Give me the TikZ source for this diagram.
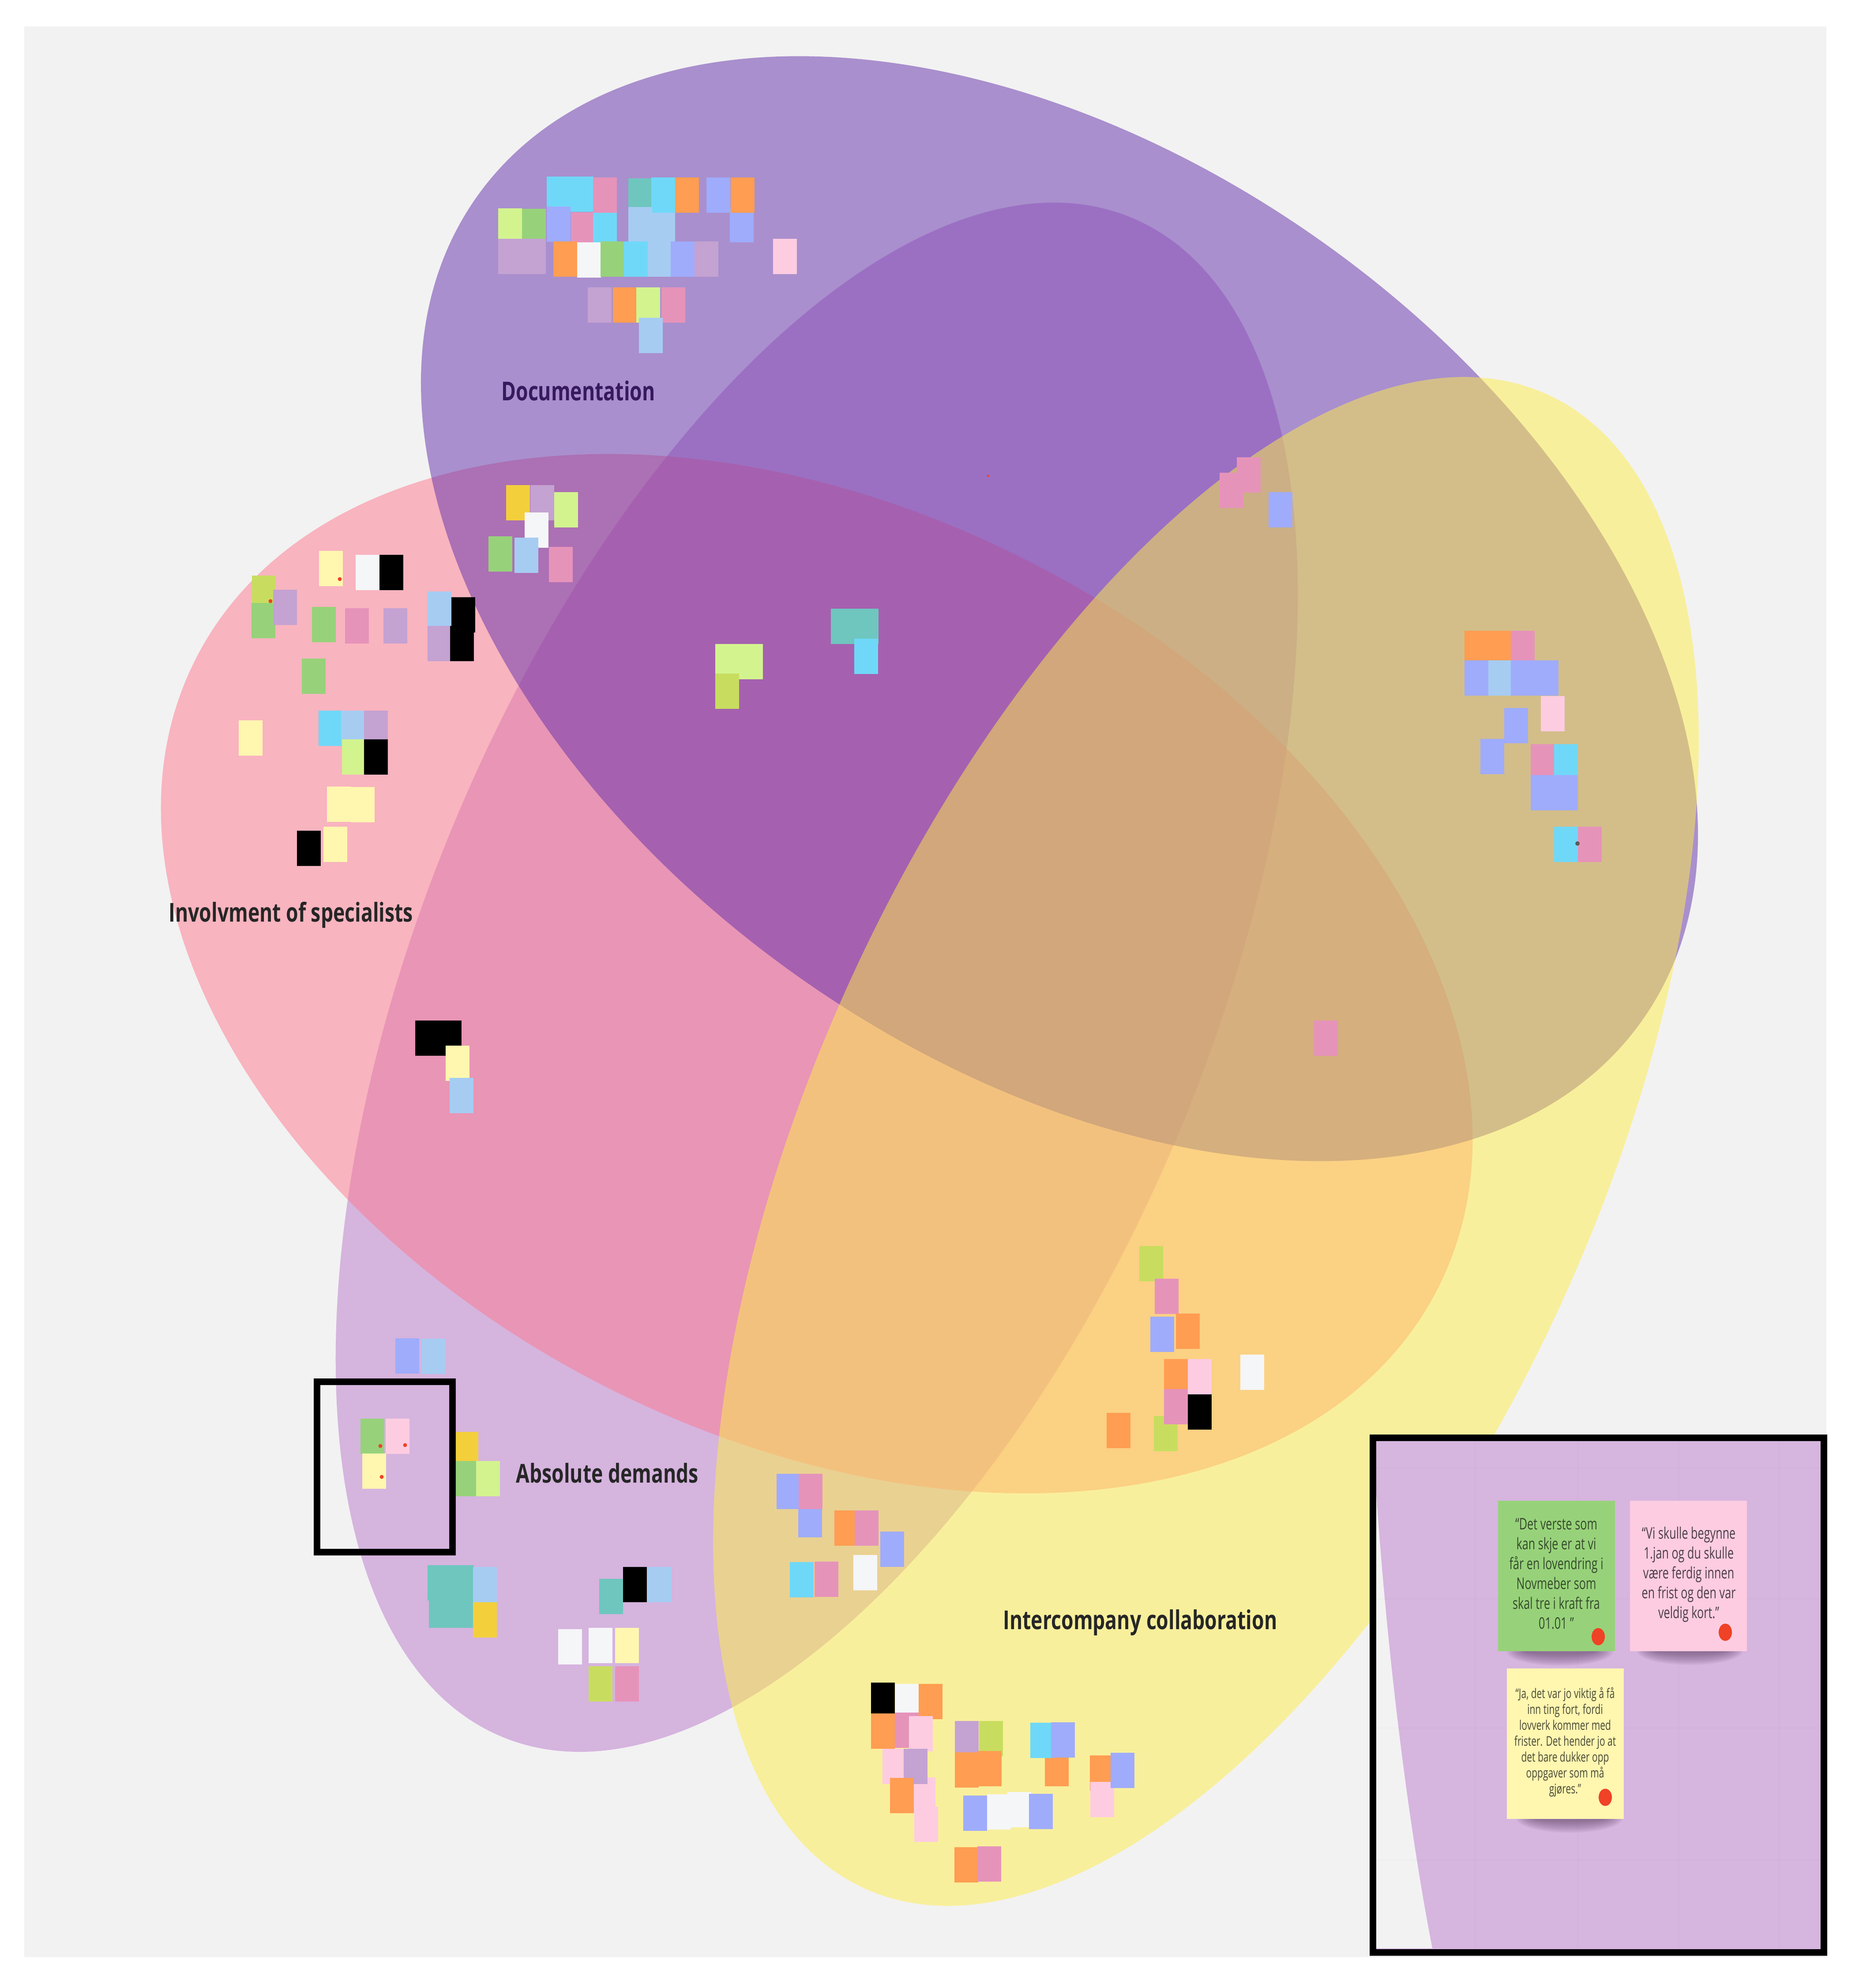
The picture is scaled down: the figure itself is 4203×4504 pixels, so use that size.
\documentclass[tikz,border=0pt]{standalone}
\usepackage{fontspec}
\setmainfont{Open Sans}
\usetikzlibrary{shapes.geometric}
\definecolor{vDocs}{RGB}{98,46,170}
\definecolor{vSpec}{RGB}{254,120,142}
\definecolor{vDemand}{RGB}{186,120,204}
\definecolor{vInter}{RGB}{254,238,72}
\definecolor{backGrey}{HTML}{F2F2F2}
\definecolor{insetFill}{HTML}{D6B5DF}
\definecolor{nCyan}{HTML}{6FD8F8}
\definecolor{nRose}{HTML}{E693BA}
\definecolor{nTeal}{HTML}{6EC6BF}
\definecolor{nOrange}{HTML}{FF9D52}
\definecolor{nPeri}{HTML}{9FACFC}
\definecolor{nBlue}{HTML}{A6CCF2}
\definecolor{nLime}{HTML}{D3F38F}
\definecolor{nGreen}{HTML}{97D27A}
\definecolor{nMauve}{HTML}{C4A2D2}
\definecolor{nWhite}{HTML}{F5F6F8}
\definecolor{nPink}{HTML}{FDCCE1}
\definecolor{nYellow}{HTML}{FFF6B0}
\definecolor{nGold}{HTML}{F4CF3C}
\definecolor{nOlive}{HTML}{C8DD5F}
\definecolor{dotRed}{HTML}{EF4226}
\tikzset{%
   venn/.style={ellipse, inner sep=0mm, outer sep=0mm, fill opacity=.5},
   sticky/.style={rectangle, inner sep=0mm, outer sep=0mm, anchor=north west, minimum width=5.4pt, minimum height=8pt},
   bigsticky/.style={rectangle, inner sep=0mm, outer sep=0mm, anchor=north west, minimum width=26.5pt, minimum height=34.1pt},
   vote/.style={circle, inner sep=0mm, outer sep=0mm, minimum size=.9pt, fill=dotRed},
   bigvote/.style={ellipse, inner sep=0mm, outer sep=0mm, minimum width=3pt, minimum height=3.9pt, fill=dotRed},
   title/.style={inner sep=0mm, font=\fontsize{5.9}{7}\bfseries\selectfont, xscale=.755},
   quote/.style={inner sep=0mm, align=center, xscale=.7},
   frame/.style={rectangle, draw=black, inner sep=0mm, outer sep=0mm},
}
\begin{document}
\begin{tikzpicture}[x=.1pt, y=-.1pt]
      \useasboundingbox (0,0) rectangle (4203,4504);
      \fill[white] (0,0) rectangle (4203,4504);
      \fill[backGrey] (55,60) rectangle (4139,4434);
      \node[venn, fill=vDemand, minimum width=372.6pt, minimum height=178.6pt, rotate=67.5] (demands) at (1851,2214) {};
      \node[venn, fill=vSpec, minimum width=315.6pt, minimum height=210.2pt, rotate=-26.8] (specialists) at (1851,2206) {};
      \node[venn, fill=vDocs, minimum width=323.4pt, minimum height=204.5pt, rotate=-35.2] (docs) at (2401,1379) {};
      \node[venn, fill=vInter, minimum width=372.2pt, minimum height=177pt, rotate=65.4] (inter) at (2733,2586) {};
      \foreach \x/\y/\c [count=\i] in {
         1239/400/nCyan, 1291/400/nCyan, 1344/402/nRose, 1424/404/nTeal, 1476/469/nBlue, 1476/402/nCyan,
         1530/402/nOrange, 1601/402/nPeri, 1654/469/nPeri, 1656/402/nOrange,
         1129/472/nLime, 1183/473/nGreen, 1239/468/nPeri, 1294/481/nRose, 1344/482/nCyan, 1424/469/nBlue,
         1129/541/nMauve, 1183/541/nMauve, 1254/547/nOrange, 1308/549/nWhite, 1361/547/nGreen, 1414/547/nCyan,
         1468/547/nBlue, 1520/547/nPeri, 1574/547/nMauve, 1752/541/nPink,
         1332/651/nMauve, 1389/651/nOrange, 1442/651/nLime, 1499/651/nRose, 1448/720/nBlue,
         1147/1099/nGold, 1202/1099/nMauve, 1256/1115/nLime, 1189/1161/nWhite, 1107/1215/nGreen, 1166/1218/nBlue, 1244/1239/nRose,
         723/1248/nYellow, 806/1257/nWhite, 860/1257/black, 571/1304/nOlive, 570/1366/nGreen, 619/1336/nMauve,
         707/1375/nGreen, 782/1378/nRose, 869/1378/nMauve, 969/1340/nBlue, 1023/1353/black, 969/1418/nMauve, 1020/1418/black,
         684/1492/nGreen, 722/1610/nCyan, 773/1610/nBlue, 825/1610/nMauve, 541/1632/nYellow, 775/1675/nLime, 825/1675/black,
         741/1782/nYellow, 795/1783/nYellow, 673/1882/black, 733/1873/nYellow,
         941/2312/black, 992/2312/black, 1010/2369/nYellow, 1019/2442/nBlue,
         896/3032/nPeri, 956/3033/nBlue, 817/3214/nGreen, 874/3214/nPink, 821/3293/nYellow,
         1030/3244/nGold, 1030/3310/nGreen, 1079/3310/nLime,
         969/3546/nTeal, 1020/3546/nTeal, 972/3608/nTeal, 1020/3608/nTeal, 1072/3550/nBlue, 1072/3630/nGold,
         1358/3577/nTeal, 1412/3550/black, 1468/3550/nBlue, 1265/3691/nWhite, 1334/3688/nWhite, 1394/3688/nYellow,
         1334/3775/nOlive, 1394/3775/nRose,
         1974/3812/black, 2029/3815/nWhite, 2082/3815/nOrange, 1974/3882/nOrange, 2028/3880/nRose, 2060/3888/nPink,
         2066/4027/nPink, 2000/3962/nPink, 2048/3962/nMauve, 2017/4028/nOrange, 2072/4093/nPink,
         2219/3899/nOlive, 2164/3899/nMauve, 2164/3970/nOrange, 2216/3967/nOrange, 2368/3967/nOrange, 2335/3903/nCyan, 2382/3902/nPeri,
         2470/3977/nOrange, 2471/4037/nPink, 2517/3971/nPeri,
         2183/4068/nPeri, 2283/4060/nWhite, 2237/4065/nWhite, 2332/4064/nPeri, 2163/4185/nOrange, 2215/4183/nRose,
         2803/1036/nRose, 2764/1071/nRose, 2875/1115/nPeri,
         1675/1459/nLime, 1621/1459/nLime, 1621/1526/nOlive, 1883/1379/nTeal, 1937/1379/nTeal, 1936/1447/nCyan,
         3319/1429/nOrange, 3372/1429/nOrange, 3424/1429/nRose, 3319/1496/nPeri, 3373/1496/nBlue, 3424/1496/nPeri, 3478/1496/nPeri,
         3492/1577/nPink, 3409/1604/nPeri, 3355/1674/nPeri, 3469/1686/nRose, 3522/1686/nCyan, 3469/1756/nPeri, 3522/1756/nPeri,
         3522/1873/nCyan, 3576/1873/nRose, 2978/2312/nRose,
         2582/2823/nOlive, 2617/2897/nRose, 2607/2983/nPeri, 2665/2976/nOrange, 2638/3079/nOrange, 2692/3079/nPink, 2811/3069/nWhite,
         2615/3208/nOlive, 2638/3147/nRose, 2692/3159/black, 2508/3201/nOrange,
         1760/3339/nPeri, 1809/3403/nPeri, 1810/3339/nRose, 1891/3422/nOrange, 1937/3422/nRose, 1995/3470/nPeri, 1934/3523/nWhite,
         1846/3538/nRose, 1790/3539/nCyan%
      }
         \node[sticky, fill=\c] (s\i) at (\x,\y) {};
      \foreach \x/\y [count=\i] in {770/1312, 613/1362, 862/3276, 918/3274, 865/3346}
         \node[vote] (v\i) at (\x,\y) {};
      \node[vote, minimum size=.5pt] (v6) at (2239,1078) {};
      \node[vote, fill=black!65, minimum size=1pt] (v7) at (3575,1911) {};
      \node[title, text=black!85, anchor=west] (lblInvolve) at (381,2073) {Involvment of specialists};
      \node[title, text=vDocs!55!black, anchor=west] (lblDocs) at (1135,885) {Documentation};
      \node[title, text=black!85, anchor=west] (lblDemands) at (1168,3337) {Absolute demands};
      \node[title, text=black!85, anchor=west] (lblInter) at (2272,3676) {Intercompany collaboration};
      \node[frame, line width=1.5pt, minimum width=30.7pt, minimum height=38.6pt] (focus) at (871.5,3323) {};
      \fill[insetFill] (3111,3257) rectangle (4133,4423);
      \fill[backGrey] (3118,3370) .. controls (3140,3700) and (3185,4100) .. (3246,4414) -- (3118,4414) -- cycle;
      \foreach \x in {3343,3575,3804,4032} \draw[black, opacity=.012, line width=.3pt] (\x,3264) -- (\x,4414);
      \foreach \y in {3326,3622,3914,4214} \draw[black, opacity=.012, line width=.3pt] (3118,\y) -- (4126,\y);
      \foreach \x/\y in {3535/3742, 3830/3740, 3557/4120}
         \foreach \r in {1,.9,.8,.7,.6,.5,.4,.3,.2}
            \fill[black!60!vDemand, opacity=.07] (\x,\y) ellipse [x radius=70+50*\r, y radius=32*\r];
      \node[bigsticky, fill=nGreen] (qGreen) at (3395,3400) {};
      \node[bigsticky, fill=nPink] (qPink) at (3694,3400) {};
      \node[bigsticky, fill=nYellow] (qYellow) at (3415,3780) {};
      \node[bigvote] (vGreen) at (3622,3708) {};
      \node[bigvote] (vPink) at (3910,3698) {};
      \node[bigvote] (vYellow) at (3638,4072) {};
      \node[quote, text=nGreen!35!black, font=\fontsize{3.6}{4.5}\selectfont] (tGreen) at (3527,3565) {“Det verste som\\kan skje er at vi\\får en lovendring i\\Novmeber som\\skal tre i kraft fra\\01.01 ”};
      \node[quote, text=nPink!30!black, font=\fontsize{3.6}{4.5}\selectfont] (tPink) at (3827,3567) {“Vi skulle begynne\\1.jan og du skulle\\være ferdig innen\\en frist og den var\\veldig kort.”};
      \node[quote, text=nYellow!30!black, font=\fontsize{3}{3.6}\selectfont] (tYellow) at (3547,3947) {“Ja, det var jo viktig å få\\inn ting fort, fordi\\lovverk kommer med\\frister. Det hender jo at\\det bare dukker opp\\oppgaver som må\\gjøres.”};
      \node[frame, line width=1.5pt, minimum width=102.2pt, minimum height=116.6pt] (inset) at (3622,3840) {};
\end{tikzpicture}
\end{document}
